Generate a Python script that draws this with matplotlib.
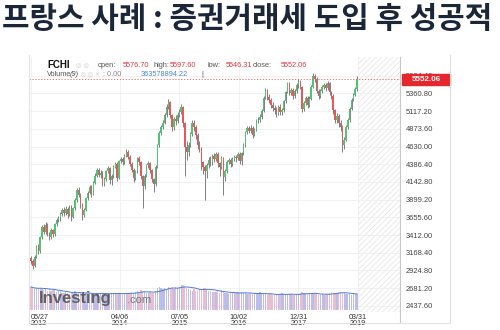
"""
프랑스 CAC40 (FCHI) 2주봉 차트 - investing.com 스타일 재현
"""

import numpy as np
import pandas as pd
import matplotlib
matplotlib.use("Agg")
import matplotlib.pyplot as plt
from matplotlib.patches import Rectangle
from matplotlib.lines import Line2D
from matplotlib.transforms import blended_transform_factory

W, H = 500, 330

TITLE = "프랑스 사례 : 증권거래세 도입 후 성공적"
START = pd.Timestamp("2012-05-27")
FIRST_OPEN = 3090

# 2주 간격 종가 / 고가 / 저가
closes = [
    3060, 2990, 3110, 3250, 3190, 3380, 3520, 3460, 3550, 3430,
    3390, 3480, 3420, 3560, 3620, 3640, 3700, 3760, 3720, 3770,
    3700, 3790, 3660, 3780, 3890, 4030, 3960, 3820, 3690, 3760,
    3920, 3990, 4070, 3980, 4130, 4230, 4300, 4240, 4270, 4110,
    4180, 4290, 4330, 4170, 4220, 4350, 4390, 4200, 4430, 4460,
    4410, 4500, 4550, 4490, 4390, 4310, 4200, 4290, 4470, 4410,
    4220, 4080, 4230, 4370, 4400, 4300, 4180, 4110, 4350, 4650,
    4820, 4900, 4960, 5060, 5180, 5240, 5060, 4900, 5010, 4980,
    5060, 5110, 5170, 4950, 4620, 4560, 4650, 4800, 4960, 4900,
    4790, 4650, 4600, 4410, 4350, 4290, 4380, 4450, 4410, 4500,
    4460, 4530, 4400, 4350, 4470, 4210, 4290, 4420, 4440, 4390,
    4460, 4480, 4470, 4520, 4430, 4540, 4650, 4830, 4880, 4850,
    4890, 4790, 4860, 4990, 5000, 5040, 5120, 5300, 5400, 5310,
    5270, 5200, 5160, 5130, 5090, 5180, 5100, 5130, 5250, 5380,
    5500, 5370, 5410, 5320, 5390, 5470, 5520, 5450, 5140, 5230,
    5300, 5200, 5290, 5450, 5600, 5560, 5400, 5320, 5390, 5450,
    5470, 5430, 5500, 5380, 5330, 5130, 5000, 5050, 4960, 4900,
    4650, 4720, 4900, 4990, 5150, 5270, 5340, 5420, 5552.06,
]
highs = [
    3130, 3080, 3140, 3270, 3290, 3400, 3550, 3560, 3590, 3580,
    3460, 3510, 3500, 3580, 3650, 3680, 3730, 3790, 3800, 3810,
    3800, 3830, 3820, 3800, 3920, 4060, 4070, 3990, 3850, 3790,
    3940, 4020, 4100, 4100, 4150, 4260, 4330, 4330, 4300, 4290,
    4210, 4310, 4360, 4350, 4250, 4370, 4420, 4410, 4450, 4490,
    4490, 4530, 4590, 4580, 4510, 4420, 4330, 4310, 4490, 4500,
    4430, 4240, 4250, 4390, 4430, 4420, 4320, 4200, 4370, 4670,
    4850, 4930, 5000, 5090, 5210, 5280, 5250, 5080, 5040, 5060,
    5100, 5150, 5210, 5190, 4970, 4700, 4690, 4830, 4990, 5000,
    4930, 4810, 4700, 4620, 4430, 4380, 4400, 4480, 4500, 4530,
    4540, 4560, 4550, 4420, 4500, 4480, 4320, 4440, 4470, 4470,
    4490, 4510, 4510, 4550, 4550, 4560, 4680, 4850, 4910, 4910,
    4920, 4910, 4890, 5010, 5040, 5080, 5150, 5330, 5440, 5420,
    5350, 5300, 5240, 5200, 5170, 5200, 5210, 5160, 5270, 5400,
    5520, 5520, 5440, 5430, 5420, 5500, 5560, 5540, 5460, 5260,
    5330, 5320, 5320, 5480, 5640, 5630, 5580, 5420, 5420, 5480,
    5500, 5510, 5530, 5520, 5400, 5350, 5150, 5090, 5080, 4990,
    4920, 4760, 4930, 5020, 5170, 5300, 5370, 5450, 5597.60,
]
lows = [
    3010, 2950, 2970, 3090, 3150, 3170, 3360, 3420, 3430, 3400,
    3340, 3360, 3380, 3400, 3530, 3590, 3610, 3680, 3680, 3690,
    3650, 3670, 3600, 3640, 3760, 3870, 3930, 3780, 3620, 3660,
    3740, 3900, 3970, 3940, 3960, 4110, 4210, 4210, 4200, 4080,
    4080, 4160, 4270, 4120, 4100, 4200, 4330, 4150, 4180, 4400,
    4380, 4390, 4480, 4460, 4360, 4280, 4140, 4170, 4270, 4380,
    4180, 3790, 4050, 4210, 4340, 4270, 4140, 4000, 4080, 4330,
    4630, 4790, 4870, 4940, 5040, 5150, 5020, 4840, 4860, 4930,
    4950, 5030, 5080, 4900, 4230, 4450, 4500, 4620, 4780, 4850,
    4740, 4600, 4550, 4300, 4250, 3900, 4200, 4340, 4360, 4380,
    4420, 4430, 4350, 4220, 4320, 3960, 4150, 4270, 4390, 4350,
    4360, 4430, 4420, 4440, 4390, 4380, 4510, 4630, 4800, 4810,
    4810, 4750, 4770, 4840, 4960, 4970, 5010, 5100, 5280, 5270,
    5230, 5160, 5120, 5080, 5040, 5060, 5060, 5070, 5110, 5230,
    5360, 5340, 5340, 5280, 5300, 5370, 5440, 5420, 5100, 5120,
    5200, 5160, 5170, 5270, 5430, 5520, 5360, 5280, 5300, 5370,
    5420, 5400, 5410, 5340, 5290, 5080, 4950, 4960, 4900, 4850,
    4560, 4590, 4700, 4870, 4970, 5130, 5250, 5320, 5400,
]
# 거래량 (백만주)
volumes = [
    640, 610, 580, 600, 570, 620, 590, 560, 600, 540, 570, 530, 550, 560, 500, 520, 540,
    480, 470, 500, 460, 450, 490, 470, 520, 480, 500, 460, 440, 430, 470, 450, 460, 480,
    440, 450, 470, 460, 430, 460, 450, 470, 440,
    450, 470, 460, 480, 440, 460, 430, 450, 470, 460, 480, 470, 490, 460, 500, 520, 480,
    560, 540, 510, 470, 460, 490, 470, 480, 520,
    600, 640, 620, 580, 610, 590, 630, 600, 620, 580, 640, 600, 650, 680, 700, 660, 600,
    580, 560, 540, 570, 520, 560, 580, 590, 600,
    620, 560, 540, 520, 500, 510, 490, 520, 480, 560, 500, 470, 460, 450, 480, 470, 460,
    480, 500, 470, 490, 480, 460, 450, 440, 460,
    450, 440, 460, 470, 490, 450, 440, 430, 420, 450, 440, 410, 420, 430, 450, 440, 460,
    430, 420, 440, 450, 430, 410, 420, 440, 450,
    460, 500, 470, 450, 460, 440, 450, 470, 460, 430, 420, 410, 430, 420, 440, 450, 470,
    500, 480, 470, 460, 490, 510, 470, 460, 450, 440, 430, 420, 430, 440, 450,
]

price_ticks = [2437.60, 2681.20, 2924.80, 3168.40, 3412.00, 3655.60, 3899.20,
               4142.80, 4386.40, 4630.00, 4873.60, 5117.20, 5360.80, 5604.40]
tick_dates = ["2012-05-27", "2014-04-06", "2015-07-05", "2016-10-02",
              "2017-12-31", "2019-03-31"]
tick_labels = ["05/27\n2012", "04/06\n2014", "07/05\n2015", "10/02\n2016",
               "12/31\n2017", "03/31\n2019"]

last_price = 5552.06
ohlc_labels = ["open:", "high:", "low:", "close:"]
ohlc_values = ["5576.70", "5597.60", "5546.31", "5552.06"]
volume_value = "363578894.22"

GREEN = "#4fc474"
RED = "#e5585c"
GRID = "#efefef"
HDR = ["Liberation Sans", "DejaVu Sans"]


def fx(px):
    return px / W


def fy(py):
    return 1 - py / H


def main():
    n = len(closes)
    assert len(highs) == n and len(lows) == n and len(volumes) == n
    dates = pd.date_range(START, periods=n, freq="14D")
    days = np.array((dates - START).days, dtype=float)
    c = np.array(closes, dtype=float)
    o = np.concatenate([[FIRST_OPEN], c[:-1]])
    up = c >= o

    fig = plt.figure(figsize=(W / 100, H / 100), dpi=100)
    fig.patch.set_facecolor("white")
    plt.rcParams["hatch.linewidth"] = 0.5

    fig.text(fx(2), fy(19), TITLE, fontsize=21.5, fontweight="bold",
             color="#1b2738", va="center", ha="left",
             family=["Noto Sans CJK KR", "DejaVu Sans"])

    # 가격 차트
    px_per_day = (357 - 31) / days[-1]
    xmin = (29 - 31) / px_per_day
    xmax = (400 - 31) / px_per_day
    ax = fig.add_axes([fx(29), fy(312), fx(400) - fx(29), (312 - 57) / H])
    ax.set_xlim(xmin, xmax)
    ax.set_ylim(4630 - (312 - 146.5) * 13.76, 4630 + (146.5 - 57) * 13.76)

    ax.axvspan(days[-1] + 4, xmax, facecolor="none", edgecolor="#e2e2e2",
               hatch="//////", lw=0, zorder=0)

    ax.vlines(days, lows, highs, color="#3a3a3a", lw=0.45, zorder=2)
    ax.bar(days, np.maximum(np.abs(c - o), 8), bottom=np.minimum(o, c),
           width=11, color=np.where(up, GREEN, RED), lw=0, zorder=3)

    ax.axhline(last_price, color="#e46060", lw=0.6, ls=(0, (1.5, 2)), zorder=4)

    ax.set_yticks(price_ticks)
    ax.set_yticklabels([f"{v:.2f}" for v in price_ticks], family=HDR)
    ax.yaxis.tick_right()
    ax.tick_params(axis="y", length=0, pad=4, labelsize=5.4, labelcolor="#444")
    xt = [(pd.Timestamp(d) - START).days for d in tick_dates]
    ax.set_xticks(xt)
    ax.set_xticklabels(tick_labels, family=HDR, linespacing=0.8)
    ax.tick_params(axis="x", length=0, pad=1.5, labelsize=5.2, labelcolor="#333")
    ax.get_xticklabels()[0].set_horizontalalignment("left")
    ax.grid(True, color=GRID, lw=0.6, zorder=0)
    for s in ax.spines.values():
        s.set_visible(False)

    # 현재가 라벨
    tr = blended_transform_factory(ax.transAxes, ax.transData)
    w_ax = (450 - 402) / (400 - 29)
    ax.add_patch(Rectangle((1 + 2 / 371, last_price - 70), w_ax, 140,
                           transform=tr, color="#e5262c", clip_on=False, zorder=6))
    ax.text(1 + 2 / 371 + w_ax / 2, last_price, f"{last_price:.2f}", transform=tr,
            ha="center", va="center", color="white", fontsize=5.8,
            fontweight="bold", family=HDR, zorder=7, clip_on=False)

    # 거래량
    vax = fig.add_axes([fx(29), fy(310), fx(400) - fx(29), 48 / H])
    vax.set_xlim(xmin, xmax)
    vax.set_ylim(0, 1330)
    vax.bar(days, volumes, width=10, color=np.where(up, "#b4b6e8", "#e6b8cc"),
            lw=0, alpha=0.9)
    ma = pd.Series(volumes).rolling(9, min_periods=1).mean()
    vax.plot(days, ma, color="#4d7bd6", lw=0.7)
    vax.axis("off")
    vax.patch.set_visible(False)

    fig.text(fx(39), fy(303), "Investing", fontsize=12, fontweight="bold",
             color="#555555", alpha=0.9, family=HDR, va="baseline")
    fig.text(fx(127), fy(303), ".com", fontsize=8, color="#777777",
             family=HDR, va="baseline")

    # 헤더
    fig.text(fx(47), fy(65.5), "FCHI", fontsize=7, fontweight="bold",
             color="#111", family=HDR, va="center")
    fig.text(fx(76), fy(65.5), "◎ ◎", fontsize=4.5, color="#cccccc", va="center")
    for lab, val, lx, vx in zip(ohlc_labels, ohlc_values,
                                [98, 154, 208, 253], [123, 170, 226, 281]):
        fig.text(fx(lx), fy(65.5), lab, fontsize=5.3, color="#555", family=HDR,
                 va="center")
        fig.text(fx(vx), fy(65.5), val, fontsize=5.3, color="#e0383f",
                 family=HDR, va="center")
    fig.text(fx(47), fy(75), "Volume", fontsize=5.3, color="#555", family=HDR,
             va="center")
    fig.text(fx(70), fy(75), "(9)", fontsize=5.3, color="#555", family=HDR,
             style="italic", va="center")
    fig.text(fx(81), fy(75), "◎ ◎ ✕", fontsize=4.2, color="#cccccc", va="center")
    fig.text(fx(103), fy(75), ": 0.00", fontsize=5.3, color="#888", family=HDR,
             va="center")
    fig.text(fx(141), fy(75), volume_value, fontsize=5.3, color="#4a86d8",
             family=HDR, va="center")
    fig.text(fx(201), fy(75), "|", fontsize=5.3, color="#555", family=HDR,
             va="center")

    # 테두리
    for xs, ys, col in [([29, 29], [55, 323], "#e3e3e3"),
                        ([400, 400], [57, 323], "#c8c8c8"),
                        ([450, 450], [55, 323], "#dddddd"),
                        ([29, 450], [323, 323], "#e3e3e3")]:
        fig.add_artist(Line2D([fx(x) for x in xs], [fy(y) for y in ys],
                              color=col, lw=0.8))

    fig.savefig("out.png", dpi=100, facecolor="white")


if __name__ == "__main__":
    main()
